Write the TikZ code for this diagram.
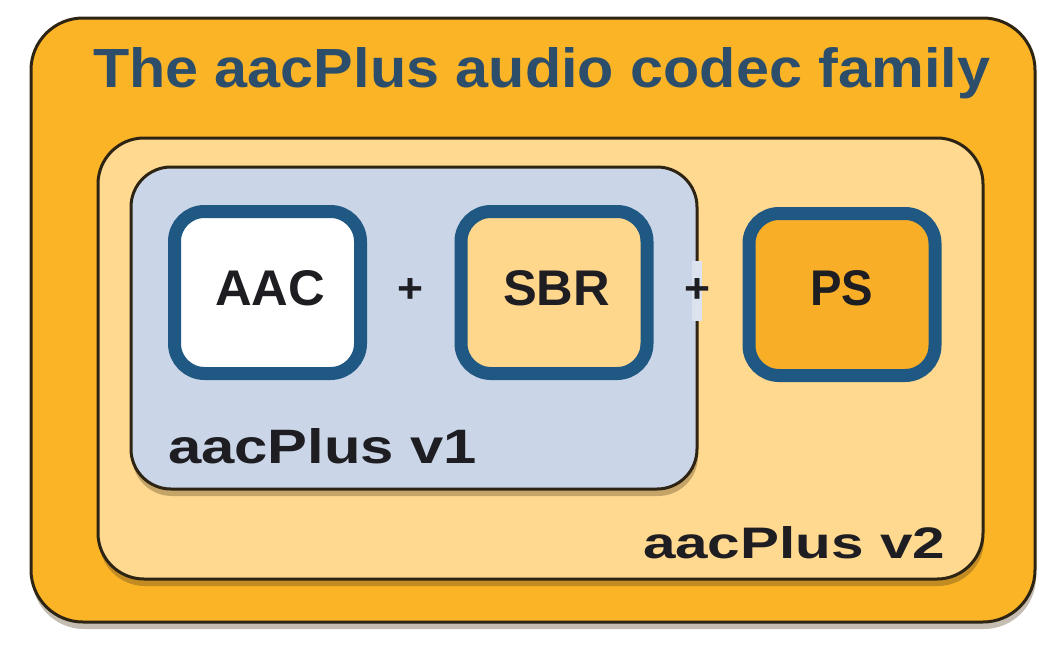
\documentclass[tikz,border=0pt]{standalone}
\usepackage{fontspec}
\usepackage{graphicx}
\setmainfont{Liberation Sans}
\usetikzlibrary{shadows}
\definecolor{outerfill}{HTML}{FBB426}
\definecolor{vtwofill}{HTML}{FFD990}
\definecolor{vonefill}{HTML}{CAD5E7}
\definecolor{sbrfill}{HTML}{FFD78C}
\definecolor{psfill}{HTML}{F9AE27}
\definecolor{boxblue}{HTML}{1F5883}
\definecolor{edgecol}{HTML}{2E2414}
\definecolor{shadowcol}{HTML}{5A4420}
\definecolor{titlecol}{HTML}{2D4E6B}
\definecolor{labcol}{HTML}{1E1E22}
\definecolor{gapcol}{HTML}{DCE3EF}
\begin{document}
\begin{tikzpicture}[x=1pt,y=-1pt,
  container/.style={draw=edgecol, line width=3pt, inner sep=0pt, outer sep=0pt,
    drop shadow={shadow xshift=1pt, shadow yshift=-7pt, fill=shadowcol, opacity=0.35}},
  codecbox/.style={draw=boxblue, line width=13pt, inner sep=0pt, outer sep=0pt,
    rounded corners=30pt, minimum width=186pt, minimum height=162pt,
    drop shadow={shadow xshift=0pt, shadow yshift=-3pt, fill=black, opacity=0.25}},
  lbl/.style={inner sep=0pt, outer sep=0pt, font=\bfseries},
  plussign/.style={inner sep=0pt, outer sep=0pt, text=labcol}]
\useasboundingbox[fill=white] (0,0) rectangle (1039,656);
% containers
\node[container, fill=outerfill, rounded corners=52pt, minimum width=1004pt, minimum height=604pt] (outer) at (533,320) {};
\node[container, fill=vtwofill, rounded corners=46pt, minimum width=885pt, minimum height=441pt] (vtwo) at (540.5,358.5) {};
\node[container, fill=vonefill, rounded corners=40pt, minimum width=566pt, minimum height=322pt] (vone) at (414,328) {};
% gap in v1 border
\fill[gapcol] (692,261) rectangle (702,321);
% codec boxes
\node[codecbox, fill=white] (aac) at (267.5,292.5) {};
\node[codecbox, fill=sbrfill] (sbr) at (554,292.5) {};
\node[codecbox, fill=psfill] (ps) at (842,294.5) {};
% texts
\node[lbl, anchor=base west, text=titlecol] (title) at (93,87) {\resizebox{897pt}{40pt}{The aacPlus audio codec family}};
\node[lbl, anchor=base west, text=labcol] (aactext) at (215,305) {\resizebox{110pt}{35pt}{AAC}};
\node[lbl, anchor=base west, text=labcol] (sbrtext) at (503,305) {\resizebox{107pt}{35pt}{SBR}};
\node[lbl, anchor=base west, text=labcol] (pstext) at (810,305) {\resizebox{63pt}{35pt}{PS}};
\node[lbl, anchor=base west, text=labcol] (vonetext) at (168,463) {\resizebox{309pt}{35pt}{aacPlus v1}};
\node[lbl, anchor=base west, text=labcol] (vtwotext) at (643,558) {\resizebox{302pt}{32pt}{aacPlus v2}};
% plus signs
\node[plussign] (plusa) at (410,290) {\resizebox{26pt}{24pt}{\bfseries +}};
\node[plussign] (plusb) at (697,290) {\resizebox{26pt}{24pt}{\bfseries +}};
\end{tikzpicture}
\end{document}
